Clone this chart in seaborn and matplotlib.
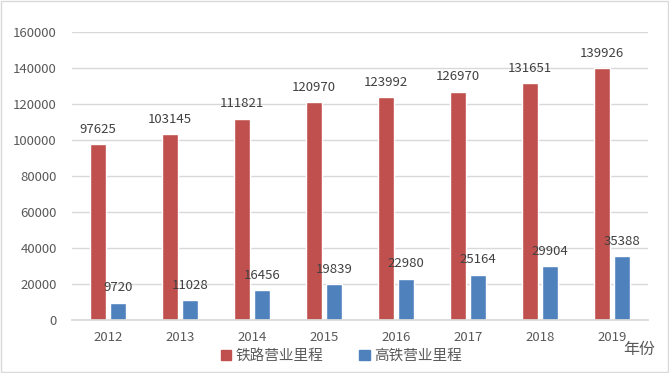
import numpy as np
import pandas as pd
import matplotlib
matplotlib.use("Agg")
import matplotlib.pyplot as plt
import seaborn as sns

years = ["2012", "2013", "2014", "2015", "2016", "2017", "2018", "2019"]
rail_km = [97625, 103145, 111821, 120970, 123992, 126970, 131651, 139926]
hsr_km = [9720, 11028, 16456, 19839, 22980, 25164, 29904, 35388]
series_names = ["铁路营业里程", "高铁营业里程"]
colors = ["#C0504D", "#4F81BD"]

sns.set_theme(style="white")
plt.rcParams["font.family"] = ["Noto Sans CJK SC", "DejaVu Sans"]

df = pd.DataFrame({
    "year": years * 2,
    "value": rail_km + hsr_km,
    "series": [series_names[0]] * len(years) + [series_names[1]] * len(years),
})

fig = plt.figure(figsize=(6.69, 3.73), dpi=100)
ax = fig.add_axes([0.1076, 0.142, 0.861, 0.772])

sns.barplot(data=df, x="year", y="value", hue="series", palette=colors,
            width=0.556, gap=0.2, ax=ax, legend=False, saturation=1)

for cont in ax.containers:
    ax.bar_label(cont, fmt="%d", padding=6, fontsize=9.5, color="#404040")

ax.set_ylim(0, 160000)
ax.set_yticks(np.arange(0, 160001, 20000))
ax.set_xlim(-0.5, 7.5)
ax.yaxis.grid(True, color="#D9D9D9", linewidth=1)
ax.set_axisbelow(True)
for s in ["left", "right", "top"]:
    ax.spines[s].set_visible(False)
ax.spines["bottom"].set_color("#D9D9D9")
ax.tick_params(axis="both", length=0, labelsize=9.5, labelcolor="#595959")
ax.tick_params(axis="y", pad=11)
ax.tick_params(axis="x", pad=8)
ax.set_xlabel("")
ax.set_ylabel("")

handles = [plt.Rectangle((0, 0), 1, 1, color=c) for c in colors]
fig.legend(handles, series_names, loc="center", bbox_to_anchor=(0.51, 0.045),
           ncol=2, frameon=False, fontsize=10.5, handlelength=0.7, handleheight=0.7,
           handletextpad=0.3, columnspacing=2.5, labelcolor="#595959")
fig.text(0.955, 0.062, "年份", ha="center", va="center", fontsize=11.5, color="#595959")

border = plt.Rectangle((0.002, 0.002), 0.996, 0.996, transform=fig.transFigure,
                       fill=False, edgecolor="#D9D9D9", linewidth=1)
fig.add_artist(border)

fig.savefig("out.png", dpi=100)
